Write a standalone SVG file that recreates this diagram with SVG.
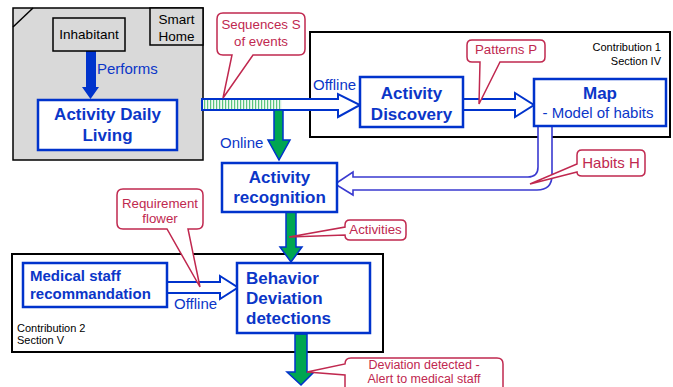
<svg xmlns="http://www.w3.org/2000/svg" width="673" height="387" viewBox="0 0 673 387">
<style>
text{font-family:"Liberation Sans",Arial,sans-serif}
.blk{fill:#000}
.bt{fill:#0b36c8;font-weight:bold;font-size:17px}
.bl{fill:#0b36c8;font-size:15px}
.red{fill:#c0284f;font-size:13.3px}
.sm{fill:#000;font-size:11px}
.node{fill:#fff;stroke:#0033cc;stroke-width:2.5}
.gray{fill:#d9d9d9;stroke:#000;stroke-width:1.5}
.cbox{fill:#fff;stroke:#000;stroke-width:2}
.call{fill:#fff;stroke:#c0284f;stroke-width:1.5}
.hol{fill:#fff;stroke:#0033cc;stroke-width:2}
.grn{fill:#00a651;stroke:#0033cc;stroke-width:1.5}
</style>
<defs>
<pattern id="stripes" width="3" height="10" patternUnits="userSpaceOnUse">
<rect width="3" height="10" fill="#f2faf4"/>
<rect x="0" width="1.2" height="10" fill="#5cc47f"/>
</pattern>
</defs>

<g id="smart-home">
<rect class="gray" x="13" y="8" width="190" height="152"/>
<line x1="13" y1="27" x2="33" y2="8" stroke="#000" stroke-width="1.5"/>
<rect class="gray" x="150" y="8" width="53" height="37"/>
<text x="176.5" y="24" font-size="13.5" text-anchor="middle" class="blk">Smart</text>
<text x="176.5" y="41" font-size="13.5" text-anchor="middle" class="blk">Home</text>
</g>

<g id="contribution1">
<rect class="cbox" x="310" y="32" width="360" height="105"/>
<text x="661" y="51" class="sm" text-anchor="end">Contribution 1</text>
<text x="661" y="65" class="sm" text-anchor="end">Section IV</text>
</g>

<g id="contribution2">
<rect class="cbox" x="12" y="254" width="371" height="98"/>
<text x="17" y="332" class="sm">Contribution 2</text>
<text x="17" y="344" class="sm">Section V</text>
</g>

<g id="connectors">
<path fill="#0033cc" d="M86,51 H96 V87 H99 L90.5,99 L82,87 H86 Z"/>
<text x="97" y="74" class="bl">Performs</text>
<path class="hol" d="M202,99 H338 V94 L360,105 L338,117 V110 H202 Z"/>
<rect x="203" y="100" width="79" height="9" fill="url(#stripes)"/>
<text x="313" y="90" class="bl">Offline</text>
<path class="grn" d="M274,110 H283 V140 H290 L279,160 L268,140 H274 Z"/>
<text x="220" y="148" class="bl">Online</text>
<path class="hol" d="M463,99 H515 V93 L534,105 L515,117 V110 H463 Z"/>
<path fill="#fff" stroke="#3a3ad0" stroke-width="1.6" d="M552,126 V175 Q552,190 537,190 H353 V195 L335,184 L353,172 V177 H528 Q538,177 538,167 V126"/>
<path class="grn" d="M286,212 H296 V247 H302 L291,262 L280,247 H286 Z"/>
<path class="hol" d="M167,282 H220 V276 L238,287.5 L220,299 V293 H167 Z"/>
<text x="174" y="309" class="bl">Offline</text>
<path class="grn" d="M295,334 H307 V372 H314 L301,385 L287,372 H295 Z"/>
</g>

<g id="inhabitant">
<rect class="gray" x="53" y="18" width="72" height="33"/>
<text x="89" y="39" font-size="13.5" text-anchor="middle" class="blk">Inhabitant</text>
</g>

<g id="adl">
<rect class="node" x="38" y="100" width="139" height="50"/>
<text x="107.5" y="120" class="bt" text-anchor="middle">Activity Daily</text>
<text x="107.5" y="141" class="bt" text-anchor="middle">Living</text>
</g>

<g id="activity-discovery">
<rect class="node" x="360" y="77" width="103" height="50"/>
<text x="411.5" y="99" class="bt" text-anchor="middle">Activity</text>
<text x="411.5" y="120" class="bt" text-anchor="middle">Discovery</text>
</g>

<g id="map">
<rect class="node" x="534" y="79" width="132" height="47"/>
<text x="600" y="99" class="bt" text-anchor="middle">Map</text>
<text x="598" y="118" class="bl" text-anchor="middle">- Model of habits</text>
</g>

<g id="activity-recognition">
<rect class="node" x="222" y="163" width="115" height="49"/>
<text x="279.5" y="183" class="bt" text-anchor="middle">Activity</text>
<text x="279.5" y="203" class="bt" text-anchor="middle">recognition</text>
</g>

<g id="medical-staff">
<rect class="node" x="23" y="263" width="144" height="44"/>
<text x="30" y="281" class="bt" style="font-size:15px">Medical staff</text>
<text x="30" y="299" class="bt" style="font-size:15px">recommandation</text>
</g>

<g id="behavior-deviation">
<rect class="node" x="237" y="263" width="133" height="70"/>
<text x="246" y="284" class="bt">Behavior</text>
<text x="246" y="304" class="bt">Deviation</text>
<text x="246" y="324" class="bt">detections</text>
</g>

<g id="callout-sequences">
<path class="call" d="M223,13 H299 Q305,13 305,19 V49 Q305,55 299,55 H253 L223,98 L232,55 H223 Q217,55 217,49 V19 Q217,13 223,13 Z"/>
<text x="261" y="29" class="red" text-anchor="middle">Sequences S</text>
<text x="261" y="46" class="red" text-anchor="middle">of events</text>
</g>

<g id="callout-patterns">
<path class="call" d="M472,40 H540 Q545,40 545,45 V57 Q545,62 540,62 H500 L479,104 L480,62 H472 Q467,62 467,57 V45 Q467,40 472,40 Z"/>
<text x="506" y="54" class="red" text-anchor="middle">Patterns P</text>
</g>

<g id="callout-habits">
<path class="call" d="M582,150 H640 Q645,150 645,155 V171 Q645,176 640,176 H582 Q577,176 577,172 L530,184 L577,164 V155 Q577,150 582,150 Z"/>
<text x="611" y="168" class="red" style="font-size:15px" text-anchor="middle">Habits H</text>
</g>

<g id="callout-activities">
<path class="call" d="M350,220 H401 Q406,220 406,225 V235 Q406,240 401,240 H350 Q345,240 345,235 L289,237 L345,227 V225 Q345,220 350,220 Z"/>
<text x="375.5" y="234" class="red" text-anchor="middle">Activities</text>
</g>

<g id="callout-requirement">
<path class="call" d="M123,189 H197 Q203,189 203,195 V223 Q203,229 197,229 H188 L200,287 L167,229 H123 Q117,229 117,223 V195 Q117,189 123,189 Z"/>
<text x="160" y="208" class="red" text-anchor="middle">Requirement</text>
<text x="160" y="223" class="red" text-anchor="middle">flower</text>
</g>

<g id="callout-deviation">
<path class="call" d="M351,358 H497 Q503,358 503,364 V396 H345 V375 L307,372 L345,364 Q345,358 351,358 Z"/>
<text x="424" y="369" class="red" style="font-size:12.5px" text-anchor="middle">Deviation detected -</text>
<text x="424" y="383" class="red" style="font-size:12.5px" text-anchor="middle">Alert to medical staff</text>
</g>
</svg>
